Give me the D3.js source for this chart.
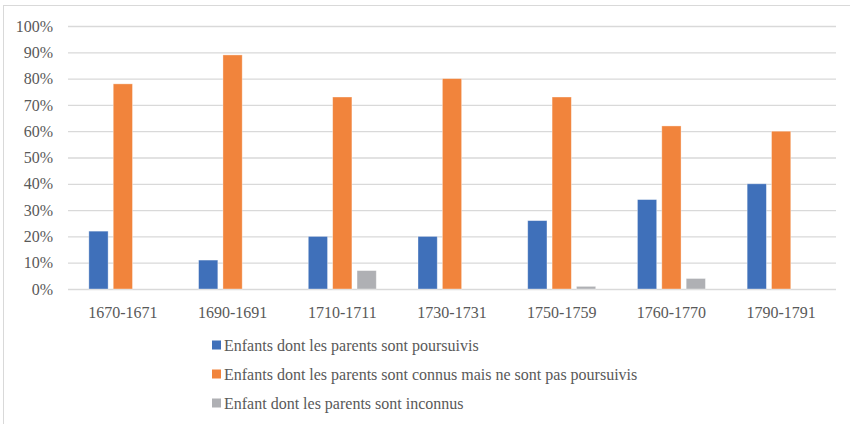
<!DOCTYPE html>
<html><head><meta charset="utf-8">
<script src="https://cdn.jsdelivr.net/npm/d3@7"></script>
<style>body{margin:0;background:#fff}svg{display:block}svg text{font-family:"Liberation Serif","Times New Roman",serif !important;}</style>
</head><body>
<svg id="c" width="850" height="424"></svg>
<script>
const categories = ["1670-1671","1690-1691","1710-1711","1730-1731","1750-1759","1760-1770","1790-1791"];
const seriesNames = ["Enfants dont les parents sont poursuivis","Enfants dont les parents sont connus mais ne sont pas poursuivis","Enfant dont les parents sont inconnus"];
const poursuivis = [22, 11, 20, 20, 26, 34, 40];
const connus = [78, 89, 73, 80, 73, 62, 60];
const inconnus = [0, 0, 7, 0, 1, 4, 0];
const yTicks = [0,10,20,30,40,50,60,70,80,90,100];
const colors = ["#3F70BA","#F1843C","#AFB0B4"];

(function(){
const values = [poursuivis, connus, inconnus];
const svg = d3.select("#c");
const font = "Liberation Serif, serif";
const textCol = "#595959";

svg.append("rect").attr("x",3.5).attr("y",5.5).attr("width",860).attr("height",430)
  .attr("fill","#fff").attr("stroke","#d9d9d9").attr("stroke-width",1);

const pLeft=68, pRight=836, pTop=26, pBottom=289;
const y = d3.scaleLinear().domain([0,100]).range([pBottom, pTop]);
const x0 = d3.scaleBand().domain(categories).range([pLeft,pRight]).paddingInner(0).paddingOuter(0);
const groupW = 68;
const x1 = d3.scaleBand().domain(d3.range(seriesNames.length)).range([0,groupW]).paddingInner(0.21);

const yAxis = d3.axisLeft(y).tickValues(yTicks).tickSize(-(pRight-pLeft)).tickFormat(d=>d+"%").tickPadding(15);
const ga = svg.append("g").attr("transform",`translate(${pLeft},0)`).call(yAxis)
  .attr("font-family",font).attr("font-size",16);
ga.select(".domain").remove();
ga.selectAll(".tick line").attr("stroke","#d9d9d9").attr("stroke-width",1.3);
ga.selectAll(".tick text").attr("fill",textCol).attr("font-family",font).attr("font-size",16);

categories.forEach((c,i)=>{
  const gx = x0(c) + (x0.bandwidth()-groupW)/2;
  values.forEach((vals,s)=>{
    const v = vals[i];
    if (v<=0) return;
    svg.append("rect")
      .attr("x", gx + x1(s)).attr("y", y(v))
      .attr("width", x1.bandwidth()).attr("height", y(0)-y(v))
      .attr("fill", colors[s]).attr("stroke","#fff").attr("stroke-opacity",0.45).attr("stroke-width",0.8);
  });
});

const xAxis = d3.axisBottom(x0).tickSize(0).tickPadding(18);
const gxa = svg.append("g").attr("transform",`translate(0,${pBottom})`).call(xAxis)
  .attr("font-family",font).attr("font-size",16);
gxa.select(".domain").remove();
gxa.selectAll(".tick text").attr("fill",textCol).attr("font-family",font).attr("font-size",16);

const leg = svg.append("g");
seriesNames.forEach((n,i)=>{
  const cy = 345 + i*29;
  leg.append("rect").attr("x",212).attr("y",cy-4.5).attr("width",9).attr("height",9).attr("fill",colors[i]);
  leg.append("text").attr("x",224).attr("y",cy).attr("dy","0.35em").attr("fill",textCol)
    .attr("font-family",font).attr("font-size",16).text(n);
});
})();
</script>
</body></html>
